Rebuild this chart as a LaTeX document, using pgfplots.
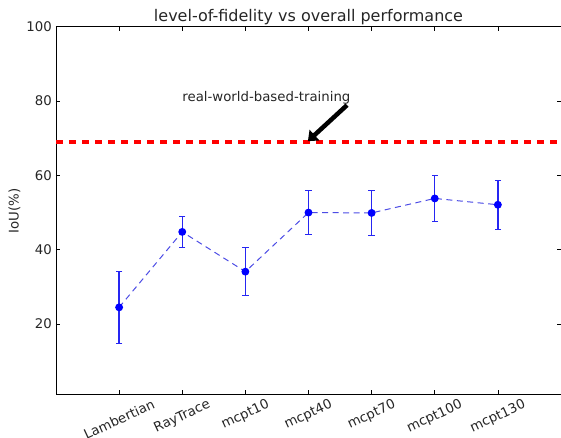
\documentclass[border=0pt]{standalone}
\usepackage{graphicx}
\usepackage{fontspec}
\setmainfont{DejaVu Sans}
\usepackage{pgfplots}
\pgfplotsset{compat=1.18}
\usetikzlibrary{arrows.meta}

\definecolor{errblue}{rgb}{0.15,0.15,0.95}
\definecolor{lineblue}{rgb}{0.30,0.30,0.90}

% mean IoU per rendering fidelity level
\pgfplotstableread{
x  iou
0  24.5
1  44.8
2  34.1
3  50.0
4  49.9
5  53.8
6  52.1
}\fidelity

% lower and upper end of each error bar (nan separates the bars)
\pgfplotstableread{
x    y
0    14.9
0    34.1
nan  nan
1    40.6
1    49.0
nan  nan
2    27.7
2    40.5
nan  nan
3    44.1
3    55.9
nan  nan
4    43.8
4    56.0
nan  nan
5    47.7
5    59.9
nan  nan
6    45.5
6    58.7
}\fidelityerr

\begin{document}
\begin{tikzpicture}
\path[use as bounding box] (-56pt,-43.3pt) rectangle (505pt,394.7pt);
\begin{axis}[
  at={(0,0)}, anchor=south west,
  scale only axis,
  width=505pt, height=368pt,
  xmin=-1, xmax=7,
  ymin=1, ymax=100,
  xtick={0,1,2,3,4,5,6},
  xticklabels={\rotatebox{25}{Lambertian},\rotatebox{25}{RayTrace},\rotatebox{25}{mcpt10},\rotatebox{25}{mcpt40},\rotatebox{25}{mcpt70},\rotatebox{25}{mcpt100},\rotatebox{25}{mcpt130}},
  ytick={20,40,60,80,100},
  tick align=inside,
  major tick length=4.5pt,
  tick style={black, line width=0.6pt},
  axis line style={black, line width=0.8pt},
  /pgf/number format/assume math mode=true,
  tick label style={font=\fontsize{13.3}{15}\selectfont, text=black!85},
  xticklabel style={anchor=north, inner sep=0pt, yshift=-3.5pt},
  yticklabel style={anchor=east, inner sep=0pt, xshift=-4pt},
  title={level-of-fidelity vs overall performance},
  every axis title shift=0pt,
  title style={font=\fontsize{16}{18}\selectfont, text=black!85, at={(0.5,1)}, anchor=base, yshift=5.5pt},
  ylabel={IoU(\%)},
  every axis y label/.style={at={(axis description cs:-0.0822,0.5)}, rotate=90, anchor=center, font=\fontsize{13.3}{15}\selectfont, text=black!85},
  unbounded coords=jump,
  clip=false,
]
% reference level reached by training on real-world data
\addplot[red, line width=4pt, dash pattern=on 7pt off 6pt] coordinates {(-1,69) (7,69)};

% error bars with caps
\addplot[errblue, line width=1.3pt, mark=-, mark size=3.2pt,
  mark options={solid, line width=1pt}]
  table[x=x, y=y] {\fidelityerr};

% mean IoU
\addplot[lineblue, line width=1pt, dash pattern=on 6pt off 4.5pt,
  mark=*, mark size=3.4pt, mark options={solid, fill=blue, draw=blue}]
  table[x=x, y=iou] {\fidelity};

\node[anchor=base west, font=\fontsize{13.3}{15}\selectfont, text=black!85, inner sep=0pt] at (axis cs:1,80) {real-world-based-training};
\draw[black, line width=4.5pt, -{Triangle[length=9pt, width=14pt]}] (axis cs:3.61,78.9) -- (axis cs:2.99,69.2);
\end{axis}
\end{tikzpicture}
\end{document}
